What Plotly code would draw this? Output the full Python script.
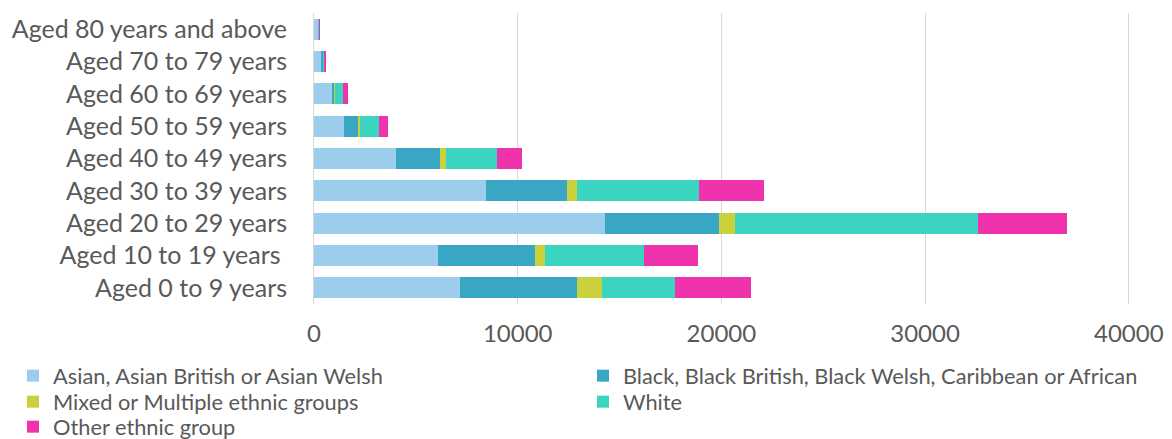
import plotly.graph_objects as go

categories = ["Aged 80 years and above", "Aged 70 to 79 years", "Aged 60 to 69 years",
              "Aged 50 to 59 years", "Aged 40 to 49 years", "Aged 30 to 39 years",
              "Aged 20 to 29 years", "Aged 10 to 19 years ", "Aged 0 to 9 years"]

asian = [200, 330, 870, 1490, 4040, 8420, 14310, 6110, 7190]
black = [40, 140, 120, 650, 2140, 4020, 5570, 4720, 5700]
mixed = [3, 10, 40, 115, 280, 490, 770, 520, 1240]
white = [5, 30, 410, 915, 2500, 5960, 11950, 4850, 3610]
other = [5, 50, 230, 475, 1240, 3220, 4360, 2660, 3690]

tick_values = [0, 10000, 20000, 30000, 40000]

series = [
    ("Asian, Asian British or Asian Welsh", asian, "#9dcdec"),
    ("Black, Black British, Black Welsh, Caribbean or African", black, "#39a7c4"),
    ("Mixed or Multiple ethnic groups", mixed, "#c9d13c"),
    ("White", white, "#3ad4c0"),
    ("Other ethnic group", other, "#ef33ad"),
]

legend_ids = ["legend", "legend2", "legend3", "legend4", "legend5"]

fig = go.Figure()
for (name, vals, col), lg in zip(series, legend_ids):
    fig.add_trace(go.Bar(y=categories, x=vals, name=name, orientation="h", legend=lg,
                         showlegend=True,
                         marker=dict(color=col, line=dict(width=0))))

font = "Lato, 'Open Sans', sans-serif"
text_col = "#595959"
legend_common = dict(orientation="v", xanchor="left", yanchor="middle",
                     font=dict(size=21.8, color=text_col, family=font),
                     itemclick=False, itemdoubleclick=False, visible=True,
                     bgcolor="rgba(0,0,0,0)", borderwidth=0)

plot_left, plot_w = 314, 816
plot_top, plot_h = 13, 291
col_x = [(13 - plot_left) / plot_w, (583 - plot_left) / plot_w]
row_y = [-(376 - (plot_top + plot_h)) / plot_h,
         -(402 - (plot_top + plot_h)) / plot_h,
         -(427 - (plot_top + plot_h)) / plot_h]
positions = [(col_x[0], row_y[0]), (col_x[1], row_y[0]),
             (col_x[0], row_y[1]), (col_x[1], row_y[1]),
             (col_x[0], row_y[2])]

legend_layout = {lg: dict(x=px, y=py, **legend_common)
                 for lg, (px, py) in zip(legend_ids, positions)}

fig.update_layout(
    barmode="stack",
    showlegend=True,
    width=1172, height=439,
    margin=dict(l=plot_left, r=1172 - plot_left - plot_w, t=plot_top,
                b=439 - plot_top - plot_h, autoexpand=False),
    paper_bgcolor="white", plot_bgcolor="white",
    bargap=0.36,
    font=dict(family=font, color=text_col, size=24),
    xaxis=dict(range=[0, 40060], tickvals=tick_values, tickformat="d",
               showgrid=True, gridcolor="#d9d9d9", gridwidth=1, zeroline=False,
               ticks="outside", ticklen=8, tickcolor="rgba(0,0,0,0)",
               tickfont=dict(size=24, color=text_col), showline=False, automargin=False),
    yaxis=dict(categoryorder="array", categoryarray=categories[::-1],
               showline=True, linecolor="#d9d9d9", linewidth=1, showgrid=False,
               ticks="outside", ticklen=21, tickcolor="rgba(0,0,0,0)",
               tickfont=dict(size=25, color=text_col), automargin=False),
    **legend_layout,
)
fig.write_html("out.html", config={"displayModeBar": False},
               post_script="document.body.style.margin='0';document.body.style.padding='0';")
